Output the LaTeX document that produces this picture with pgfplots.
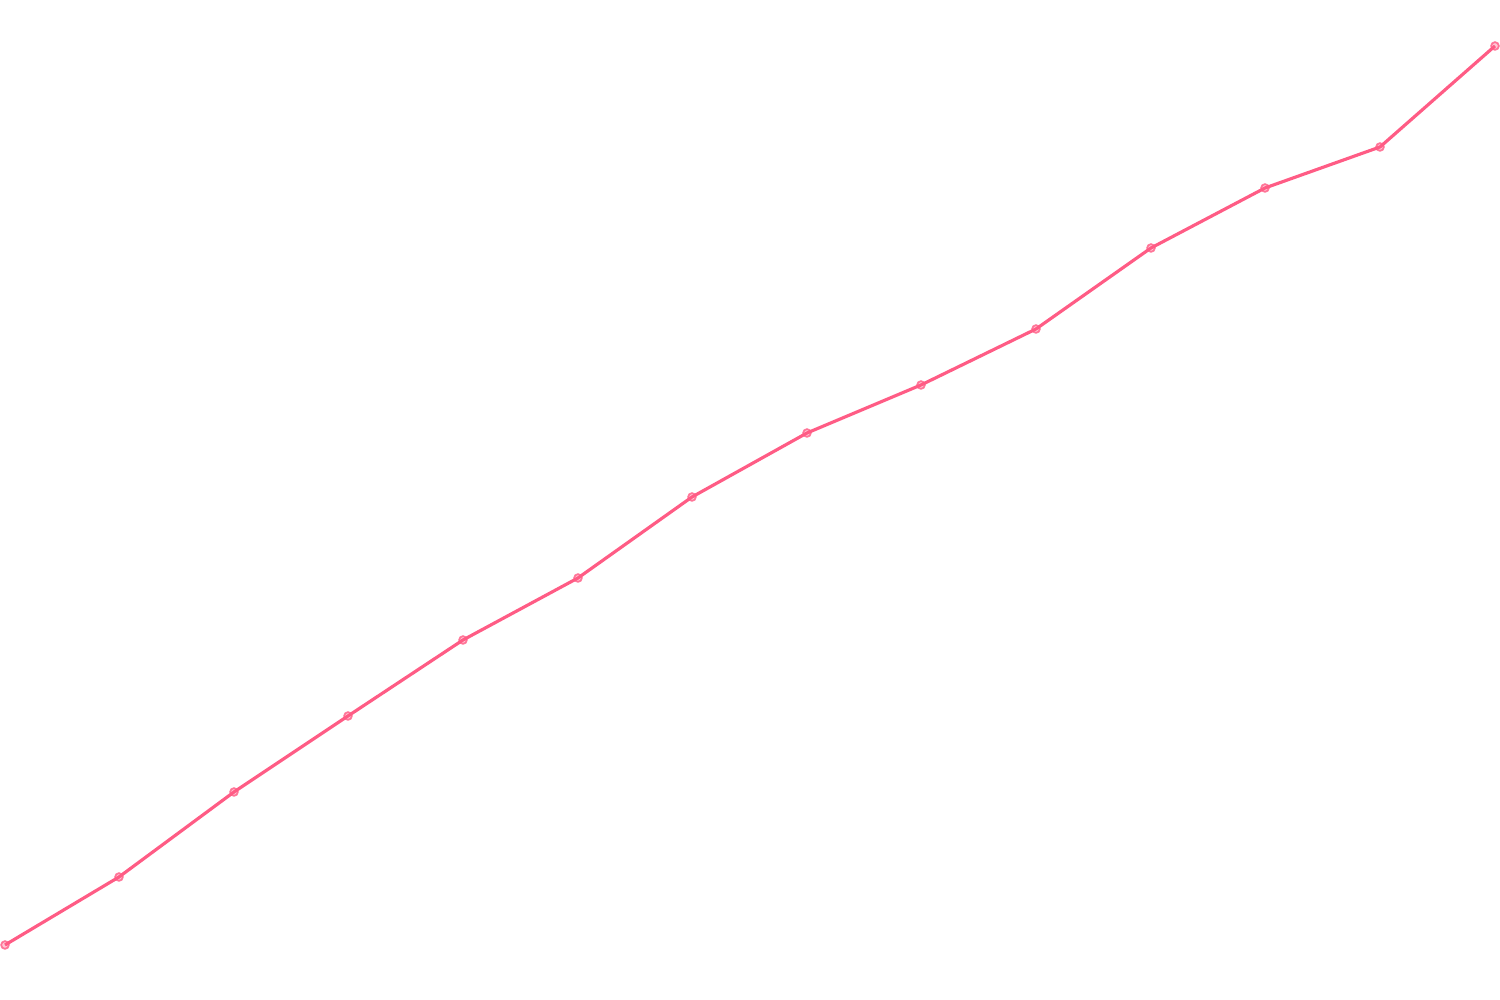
\documentclass[border=0pt]{standalone}
\usepackage{pgfplots}
\pgfplotsset{compat=1.18}
\definecolor{linepink}{HTML}{FF5C85}
\begin{document}
\begin{tikzpicture}
\begin{axis}[
  scale only axis,
  width=15cm, height=10cm,
  xmin=0, xmax=1500, ymin=0, ymax=1000,
  hide axis,
  clip=false,
]
\path (rel axis cs:0,0) rectangle (rel axis cs:1,1);
\addplot[color=linepink, line width=0.9pt, mark=*,
  mark size=1.1pt, mark options={fill=linepink, fill opacity=0.35, draw=linepink, draw opacity=0.8, line width=0.5pt}]
coordinates {
(5,55)
(119,123)
(234,208)
(348,284)
(463,360)
(578,422)
(692,503)
(807,567)
(921,615)
(1036,671)
(1151,752)
(1265,812)
(1380,853)
(1495,954)
};
\end{axis}
\end{tikzpicture}
\end{document}
